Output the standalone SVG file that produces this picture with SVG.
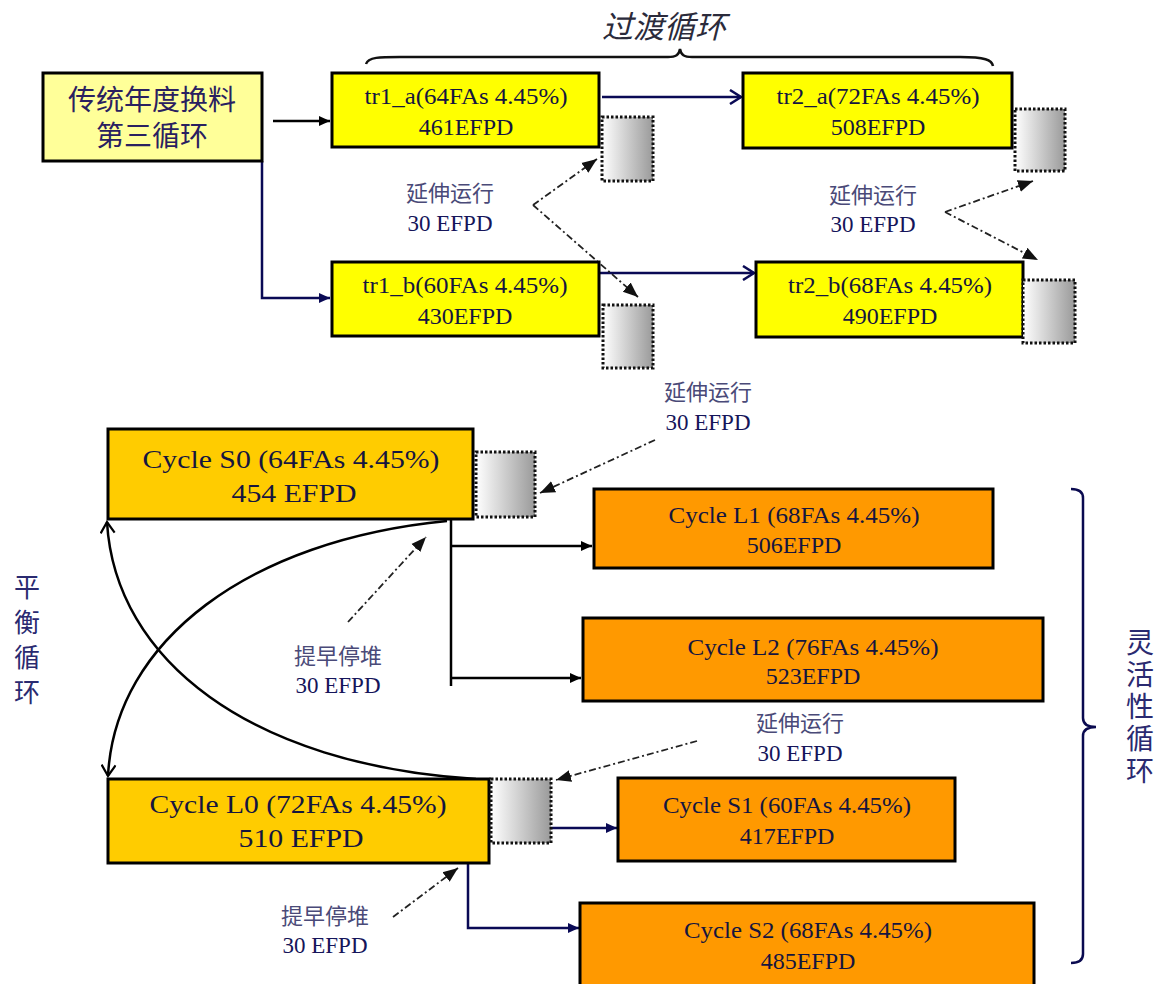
<svg xmlns="http://www.w3.org/2000/svg" width="1169" height="984" viewBox="0 0 1169 984">
<defs>
<linearGradient id="gr" x1="0" y1="0" x2="1" y2="0">
<stop offset="0" stop-color="#ffffff"/>
<stop offset="1" stop-color="#9a9a9a"/>
</linearGradient>
<marker id="tri" markerUnits="userSpaceOnUse" markerWidth="12" markerHeight="12" refX="11" refY="6" orient="auto"><path d="M0,1 L11,6 L0,11 Z" fill="#000"/></marker>
<marker id="triN" markerUnits="userSpaceOnUse" markerWidth="12" markerHeight="12" refX="11" refY="6" orient="auto"><path d="M0,1 L11,6 L0,11 Z" fill="#0a0a55"/></marker>
<marker id="openN" markerUnits="userSpaceOnUse" markerWidth="14" markerHeight="16" refX="12" refY="8" orient="auto"><path d="M1,1 L12,8 L1,15" fill="none" stroke="#0a0a55" stroke-width="2.5"/></marker>
<marker id="openK" markerUnits="userSpaceOnUse" markerWidth="14" markerHeight="16" refX="12" refY="8" orient="auto"><path d="M1,1 L12,8 L1,15" fill="none" stroke="#000" stroke-width="2.2"/></marker>
<marker id="dtri" markerUnits="userSpaceOnUse" markerWidth="16" markerHeight="14" refX="15" refY="7" orient="auto"><path d="M0,1 L15,7 L0,13 Z" fill="#111"/></marker>
</defs>
<style>
.box{stroke:#000;stroke-width:3}
.y1{fill:#FFFF99}.y2{fill:#FFFF00}.y3{fill:#FFCC00}.o{fill:#FF9900}
.dot{fill:url(#gr);stroke:#111;stroke-width:3;stroke-dasharray:2.5 2}
.t{font-family:"Liberation Serif","Noto Sans CJK SC",serif;fill:#15153f;text-anchor:middle}
.cjk{font-family:"Noto Sans CJK SC","Liberation Serif",sans-serif;text-anchor:middle}
.cjk2{font-family:"Liberation Serif","Noto Sans CJK SC",sans-serif;text-anchor:middle;fill:#2a2060}
.vt{font-family:"Noto Sans CJK SC",sans-serif;writing-mode:vertical-rl;text-anchor:start;fill:#2a2a70}
.lb{font-family:"Noto Sans CJK SC",sans-serif;fill:#4a4a78;font-size:22px;text-anchor:middle}
.ln{font-family:"Liberation Serif",serif;fill:#15155a;font-size:23px;text-anchor:middle}
.k{fill:none;stroke:#000;stroke-width:2.5}
.n{fill:none;stroke:#0a0a55;stroke-width:2.5}
.dd{fill:none;stroke:#222;stroke-width:1.8;stroke-dasharray:7 3 2 3}
</style>

<g id="title">
<text x="664" y="38" class="cjk" font-size="31" font-style="italic" fill="#2b2b3b">过渡循环</text>
<path d="M366,64 C368,57 380,57 400,57 L668,57 C676,57 679,55 680,49 C681,55 684,57 692,57 L960,57 C985,57 992,60 993,66" fill="none" stroke="#111" stroke-width="2.5"/>
</g>

<g id="connectors">
<path class="k" d="M273,121 L330,121" marker-end="url(#tri)"/>
<path class="n" d="M262,161 L262,298 L330,298" marker-end="url(#triN)"/>
<path class="n" d="M602,97 L741,97" marker-end="url(#openN)"/>
<path class="n" d="M600,273 L754,273" marker-end="url(#openN)"/>
<path class="k" d="M451,519 L451,686"/>
<path class="k" d="M451,546 L592,546" marker-end="url(#tri)"/>
<path class="k" d="M451,678 L581,678" marker-end="url(#tri)"/>
<path class="n" d="M551,828 L617,828" marker-end="url(#triN)"/>
<path class="n" d="M468,863 L468,928 L579,928" marker-end="url(#triN)"/>
<path class="k" d="M447,521 C250,540 115,640 108,776" marker-end="url(#openK)"/>
<path class="k" d="M476,779 C250,765 115,660 107,522" marker-end="url(#openK)"/>
<path class="dd" d="M533,205 L597,159" marker-end="url(#dtri)"/>
<path class="dd" d="M533,205 L638,297" marker-end="url(#dtri)"/>
<path class="dd" d="M945,212 L1033,181" marker-end="url(#dtri)"/>
<path class="dd" d="M945,212 L1038,260" marker-end="url(#dtri)"/>
<path class="dd" d="M655,440 L540,493" marker-end="url(#dtri)"/>
<path class="dd" d="M348,622 L426,537" marker-end="url(#dtri)"/>
<path class="dd" d="M697,741 L556,780" marker-end="url(#dtri)"/>
<path class="dd" d="M393,917 L458,868" marker-end="url(#dtri)"/>
</g>

<g id="n_trad">
<rect class="box y1" x="43" y="73" width="219" height="88"/>
<text class="cjk2" x="152" y="110" font-size="28">传统年度换料</text>
<text class="cjk2" x="152" y="146" font-size="28">第三循环</text>
</g>

<g id="n_tr1a">
<rect class="box y2" x="332" y="73" width="267" height="74"/>
<text class="t" x="466" y="104" font-size="24" textLength="203" lengthAdjust="spacingAndGlyphs">tr1_a(64FAs 4.45%)</text>
<text class="t" x="466" y="135" font-size="24">461EFPD</text>
<rect class="dot" x="602" y="117" width="51" height="64"/>
</g>

<g id="n_tr2a">
<rect class="box y2" x="743" y="73" width="269" height="75"/>
<text class="t" x="878" y="104" font-size="24" textLength="203" lengthAdjust="spacingAndGlyphs">tr2_a(72FAs 4.45%)</text>
<text class="t" x="878" y="135" font-size="24">508EFPD</text>
<rect class="dot" x="1015" y="109" width="50" height="62"/>
</g>

<g id="n_tr1b">
<rect class="box y2" x="332" y="262" width="267" height="74"/>
<text class="t" x="465" y="293" font-size="24" textLength="205" lengthAdjust="spacingAndGlyphs">tr1_b(60FAs 4.45%)</text>
<text class="t" x="465" y="324" font-size="24">430EFPD</text>
<rect class="dot" x="603" y="305" width="50" height="63"/>
</g>

<g id="n_tr2b">
<rect class="box y2" x="756" y="262" width="267" height="75"/>
<text class="t" x="890" y="293" font-size="24" textLength="204" lengthAdjust="spacingAndGlyphs">tr2_b(68FAs 4.45%)</text>
<text class="t" x="890" y="324" font-size="24">490EFPD</text>
<rect class="dot" x="1023" y="280" width="52" height="63"/>
</g>

<g id="n_S0">
<rect class="box y3" x="108" y="429" width="365" height="90"/>
<text class="t" x="291" y="468" font-size="26" textLength="297" lengthAdjust="spacingAndGlyphs">Cycle S0 (64FAs 4.45%)</text>
<text class="t" x="294" y="502" font-size="26" textLength="125" lengthAdjust="spacingAndGlyphs">454 EFPD</text>
<rect class="dot" x="476" y="452" width="59" height="65"/>
</g>

<g id="n_L1">
<rect class="box o" x="594" y="489" width="399" height="79"/>
<text class="t" x="794" y="523" font-size="24" textLength="251" lengthAdjust="spacingAndGlyphs">Cycle L1 (68FAs 4.45%)</text>
<text class="t" x="794" y="553" font-size="24">506EFPD</text>
</g>

<g id="n_L2">
<rect class="box o" x="583" y="618" width="460" height="83"/>
<text class="t" x="813" y="655" font-size="24" textLength="251" lengthAdjust="spacingAndGlyphs">Cycle L2 (76FAs 4.45%)</text>
<text class="t" x="813" y="684" font-size="24">523EFPD</text>
</g>

<g id="n_L0">
<rect class="box y3" x="108" y="779" width="381" height="84"/>
<text class="t" x="298" y="813" font-size="26" textLength="297" lengthAdjust="spacingAndGlyphs">Cycle L0 (72FAs 4.45%)</text>
<text class="t" x="301" y="847" font-size="26" textLength="125" lengthAdjust="spacingAndGlyphs">510 EFPD</text>
<rect class="dot" x="491" y="779" width="60" height="64"/>
</g>

<g id="n_S1">
<rect class="box o" x="618" y="778" width="337" height="83"/>
<text class="t" x="787" y="813" font-size="24" textLength="248" lengthAdjust="spacingAndGlyphs">Cycle S1 (60FAs 4.45%)</text>
<text class="t" x="787" y="844" font-size="24">417EFPD</text>
</g>

<g id="n_S2">
<rect class="box o" x="580" y="903" width="454" height="90"/>
<text class="t" x="808" y="938" font-size="24" textLength="248" lengthAdjust="spacingAndGlyphs">Cycle S2 (68FAs 4.45%)</text>
<text class="t" x="808" y="969" font-size="24">485EFPD</text>
</g>

<g id="labels">
<text class="lb" x="450" y="201">延伸运行</text><text class="ln" x="450" y="231">30 EFPD</text>
<text class="lb" x="873" y="203">延伸运行</text><text class="ln" x="873" y="232">30 EFPD</text>
<text class="lb" x="708" y="400">延伸运行</text><text class="ln" x="708" y="430">30 EFPD</text>
<text class="lb" x="338" y="664">提早停堆</text><text class="ln" x="338" y="693">30 EFPD</text>
<text class="lb" x="800" y="731">延伸运行</text><text class="ln" x="800" y="761">30 EFPD</text>
<text class="lb" x="325" y="924">提早停堆</text><text class="ln" x="325" y="953">30 EFPD</text>
</g>

<g id="g_balance">
<text class="vt" x="27" y="574" font-size="26" letter-spacing="9">平衡循环</text>
</g>

<g id="g_flex">
<path d="M1071,489 Q1083,489 1083,498 L1083,718 Q1083,727 1096,727 Q1083,727 1083,736 L1083,954 Q1083,963 1071,963" fill="none" stroke="#0a0a50" stroke-width="2.5"/>
<text class="vt" x="1140" y="628" font-size="28" letter-spacing="4">灵活性循环</text>
</g>
</svg>
